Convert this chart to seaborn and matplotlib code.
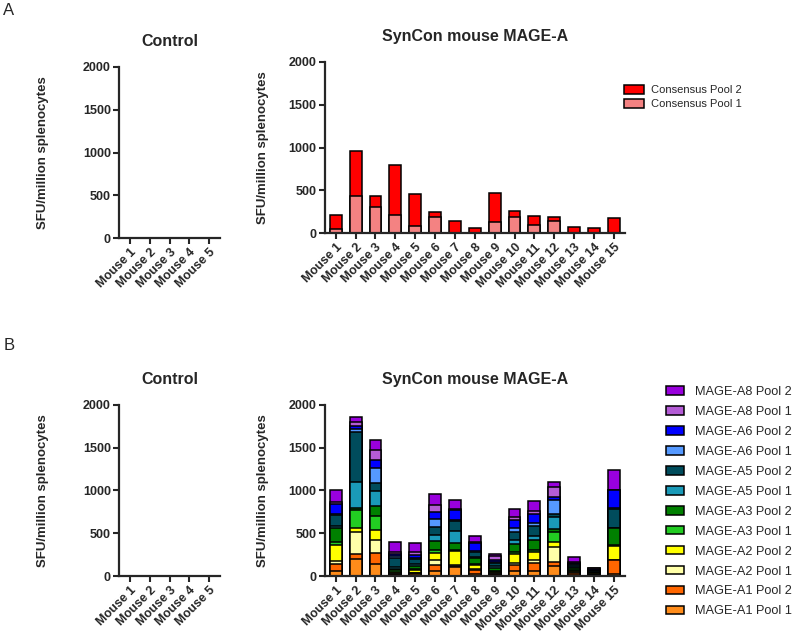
import numpy as np
import seaborn as sns
import matplotlib.pyplot as plt
from matplotlib.patches import Patch

sns.set_style('ticks')
plt.rcParams['font.family'] = ['Liberation Sans', 'DejaVu Sans']

ylab = 'SFU/million splenocytes'
control_mice = ['Mouse %d' % i for i in range(1, 6)]
control_vals = [0, 0, 0, 0, 0]
mice = ['Mouse %d' % i for i in range(1, 16)]

# panel A: consensus pools
cons_pool1 = [50, 430, 310, 215, 85, 185, 5, 5, 130, 185, 90, 140, 5, 5, 5]
cons_pool2 = [165, 535, 120, 580, 370, 60, 130, 50, 335, 75, 105, 50, 70, 50, 165]
cons_labels = ['Consensus Pool 1', 'Consensus Pool 2']
cons_colors = ['#f48282', '#ff0000']

# panel B: MAGE-A pools (bottom to top)
a1p1 = [60, 196, 145, 13, 20, 58, 105, 20, 15, 60, 60, 117, 15, 8, 20]
a1p2 = [80, 67, 129, 13, 10, 74, 10, 50, 10, 65, 95, 50, 15, 8, 165]
a2p1 = [40, 247, 145, 13, 10, 50, 10, 8, 15, 27, 30, 168, 15, 8, 5]
a2p2 = [185, 51, 118, 13, 30, 90, 168, 50, 10, 100, 97, 66, 15, 8, 164]
a3p1 = [30, 212, 165, 13, 10, 27, 10, 10, 10, 27, 25, 117, 15, 8, 5]
a3p2 = [170, 20, 118, 13, 35, 105, 86, 70, 30, 90, 110, 27, 20, 8, 200]
a5p1 = [25, 306, 173, 27, 25, 78, 137, 10, 25, 55, 45, 140, 10, 8, 5]
a5p2 = [120, 588, 94, 110, 55, 90, 117, 68, 40, 90, 128, 35, 20, 8, 222]
a6p1 = [20, 27, 176, 20, 20, 98, 10, 10, 10, 50, 25, 168, 10, 8, 5]
a6p2 = [110, 35, 90, 20, 35, 78, 117, 88, 25, 90, 110, 39, 20, 8, 215]
a8p1 = [25, 47, 118, 20, 35, 78, 15, 10, 45, 35, 40, 117, 10, 8, 5]
a8p2 = [140, 63, 118, 118, 100, 136, 105, 70, 25, 90, 117, 51, 55, 8, 234]
mage_vals = [a1p1, a1p2, a2p1, a2p2, a3p1, a3p2, a5p1, a5p2, a6p1, a6p2, a8p1, a8p2]
mage_labels = ['MAGE-A1 Pool 1', 'MAGE-A1 Pool 2', 'MAGE-A2 Pool 1', 'MAGE-A2 Pool 2',
               'MAGE-A3 Pool 1', 'MAGE-A3 Pool 2', 'MAGE-A5 Pool 1', 'MAGE-A5 Pool 2',
               'MAGE-A6 Pool 1', 'MAGE-A6 Pool 2', 'MAGE-A8 Pool 1', 'MAGE-A8 Pool 2']
mage_colors = ['#ff8c1a', '#ff6600', '#ffffa8', '#ffff00', '#22cc22', '#008000',
               '#1a9ab8', '#004c5c', '#5599ff', '#0000ff', '#b45cd6', '#9900dd']

fig = plt.figure(figsize=(8, 6.32), dpi=100)
ax_ac = fig.add_axes([0.149, 0.6234, 0.126, 0.2706])
ax_ar = fig.add_axes([0.406, 0.6313, 0.375, 0.2706])
ax_bc = fig.add_axes([0.149, 0.0886, 0.126, 0.2706])
ax_br = fig.add_axes([0.406, 0.0886, 0.375, 0.2706])


def stacked(ax, layers, colors):
    cum = np.cumsum(np.array(layers), axis=0)
    # draw from the top layer down so each lower total covers the one above
    for vals, c in zip(cum[::-1], colors[::-1]):
        sns.barplot(x=mice, y=vals, color=c, edgecolor='black', linewidth=1.1,
                    width=0.6, errorbar=None, ax=ax, saturation=1)


def style(ax, title, lab_x):
    ax.set_ylim(0, 2000)
    ax.set_yticks([0, 500, 1000, 1500, 2000])
    n = len(ax.get_xticks())
    ax.set_xlim(-0.55, n - 0.45)
    sns.despine(ax=ax)
    for s in ['left', 'bottom']:
        ax.spines[s].set_linewidth(1.6)
    ax.tick_params(width=1.5, length=4, labelsize=9, pad=2)
    for t in ax.get_yticklabels():
        t.set_fontweight('bold')
    ax.set_xticks(ax.get_xticks())
    ax.set_xticklabels([t.get_text() for t in ax.get_xticklabels()], rotation=45,
                       ha='right', rotation_mode='anchor', fontweight='bold', fontsize=9)
    ax.set_title(title, fontsize=11.5, fontweight='bold', pad=15)
    ax.set_ylabel(ylab, fontsize=9.5, fontweight='bold')
    ax.yaxis.set_label_coords(lab_x, 0.5)
    ax.set_xlabel('')


for ax in [ax_ac, ax_bc]:
    sns.barplot(x=control_mice, y=control_vals, color='white', linewidth=0, ax=ax, errorbar=None)
    style(ax, 'Control', -0.70)

stacked(ax_ar, [cons_pool1, cons_pool2], cons_colors)
style(ax_ar, 'SynCon mouse MAGE-A', -0.187)
stacked(ax_br, mage_vals, mage_colors)
style(ax_br, 'SynCon mouse MAGE-A', -0.187)

h_a = [Patch(facecolor=c, edgecolor='black', linewidth=1.1, label=l)
       for c, l in zip(cons_colors[::-1], cons_labels[::-1])]
fig.legend(handles=h_a, loc='upper left', bbox_to_anchor=(0.774, 0.873), frameon=False,
           fontsize=8, handlelength=1.8, handleheight=0.9, handletextpad=0.7,
           labelspacing=0.35, borderaxespad=0)

h_b = [Patch(facecolor=c, edgecolor='black', linewidth=1.1, label=l)
       for c, l in zip(mage_colors[::-1], mage_labels[::-1])]
fig.legend(handles=h_b, loc='upper left', bbox_to_anchor=(0.826, 0.397), frameon=False,
           fontsize=9.2, handlelength=1.4, handleheight=0.65, handletextpad=0.85,
           labelspacing=0.62, borderaxespad=0)

fig.text(0.004, 0.995, 'A', fontsize=12, va='top')
fig.text(0.004, 0.465, 'B', fontsize=12, va='top')

fig.savefig('out.png', dpi=100)
